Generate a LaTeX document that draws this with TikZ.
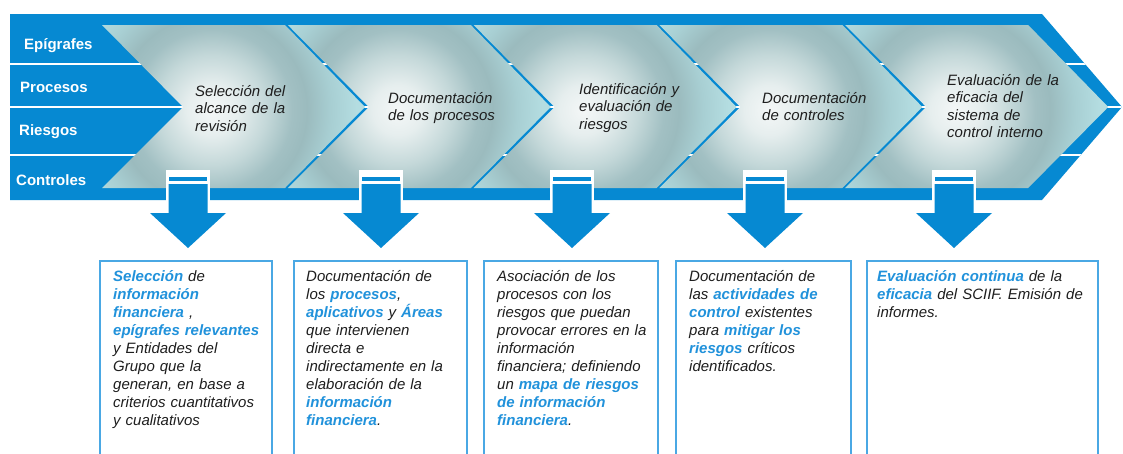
\documentclass[tikz,border=0pt]{standalone}
\usepackage{fontspec}
\setmainfont{Liberation Sans}
\definecolor{bandblue}{HTML}{0689D2}
\definecolor{kwblue}{HTML}{2192DB}
\definecolor{boxblue}{HTML}{4AA8E4}
\definecolor{txt}{HTML}{1E1E1E}
\definecolor{cc0}{HTML}{F4F7F7}
\definecolor{cc1}{HTML}{E6EEEE}
\definecolor{cc2}{HTML}{C4D8D9}
\definecolor{cc3}{HTML}{A2C0C3}
\definecolor{cc4}{HTML}{9BBBBE}
\definecolor{cc5}{HTML}{A8CFD3}
\definecolor{cc6}{HTML}{B4DDE1}
\pgfdeclareradialshading{chevshade}{\pgfpoint{0bp}{0bp}}{color(0bp)=(cc0); color(3.7bp)=(cc1); color(8.1bp)=(cc2); color(11.8bp)=(cc3); color(14bp)=(cc4); color(17.6bp)=(cc5); color(21.3bp)=(cc6); color(50bp)=(cc6)}
\newcommand{\kw}[1]{{\color{kwblue}\bfseries #1}}
\tikzset{
  rowlbl/.style={anchor=base west, font=\fontsize{15}{18}\selectfont\bfseries, text=white, inner sep=0pt},
  chevlbl/.style={anchor=base west, font=\fontsize{15}{17.5}\selectfont\itshape, text=txt, inner sep=0pt, text width=170pt, align=left},
  boxtxt/.style={anchor=base west, font=\fontsize{15}{18}\selectfont\itshape, text=txt, inner sep=0pt, text width=240pt, align=left},
  textbox/.style={draw=boxblue, line width=1.3pt},
}
\begin{document}
\begin{tikzpicture}[x=1pt,y=-1pt]
\useasboundingbox (0,0) rectangle (1123,453);
\fill[white] (0,0) rectangle (1123,453);
% blue band
\fill[bandblue] (10,14) -- (1042,14) -- (1122,107) -- (1042,200) -- (10,200) -- cycle;
\begin{scope}
  \clip (10,14) -- (1042,14) -- (1122,107) -- (1042,200) -- (10,200) -- cycle;
  \foreach \y in {64,107,155} \draw[white, line width=2pt] (10,\y) -- (1123,\y);
\end{scope}
% chevrons
\foreach \L in {102,287.8,473.6,659.4,845.2} {
  \begin{scope}
    \clip (\L,25) -- ++(183,0) -- ++(80,82) -- ++(-80,81) -- ++(-183,0) -- ++(81,-81) -- cycle;
    \shade[shading=chevshade] (\L+110,110) circle (170pt);
  \end{scope}
}
% down arrows
\foreach \c in {188,381,572,765,954} {
  \fill[white] (\c-22,170) rectangle (\c+22,214);
  \fill[bandblue] (\c-19,177) rectangle (\c+19,180.5);
  \fill[bandblue] (\c-19.5,184) -- (\c+19.5,184) -- (\c+19.5,213) -- (\c+38,213) -- (\c,248) -- (\c-38,213) -- (\c-19.5,213) -- cycle;
}
% text boxes
\draw[textbox] (100,455) -- (100,261) -- (272,261) -- (272,455);
\draw[textbox] (294,455) -- (294,261) -- (467,261) -- (467,455);
\draw[textbox] (484,455) -- (484,261) -- (658,261) -- (658,455);
\draw[textbox] (676,455) -- (676,261) -- (851,261) -- (851,455);
\draw[textbox] (867,455) -- (867,261) -- (1098,261) -- (1098,455);
% row labels
\node[rowlbl] (lEpi) at (24,49.5) {Epígrafes};
\node[rowlbl] (lPro) at (20,92.5) {Procesos};
\node[rowlbl] (lRie) at (19,135.5) {Riesgos};
\node[rowlbl] (lCon) at (16,185.5) {Controles};
% chevron labels
\node[chevlbl] (ch1) at (195,96) {Selección del\\alcance de la\\revisión};
\node[chevlbl] (ch2) at (388,103) {Documentación\\de los procesos};
\node[chevlbl] (ch3) at (579,94) {Identificación y\\evaluación de\\riesgos};
\node[chevlbl] (ch4) at (762,103) {Documentación\\de controles};
\node[chevlbl] (ch5) at (947,85) {Evaluación de la\\eficacia del\\sistema de\\control interno};
% box texts
\node[boxtxt] (t1) at (113,281) {\kw{Selección} de\\\kw{información}\\\kw{financiera} ,\\\kw{epígrafes relevantes}\\y Entidades del\\Grupo que la\\generan, en base a\\criterios cuantitativos\\y cualitativos};
\node[boxtxt] (t2) at (306,281) {Documentación de\\los \kw{procesos},\\\kw{aplicativos} y \kw{Áreas}\\que intervienen\\directa e\\indirectamente en la\\elaboración de la\\\kw{información}\\\kw{financiera}.};
\node[boxtxt] (t3) at (497,281) {Asociación de los\\procesos con los\\riesgos que puedan\\provocar errores en la\\información\\financiera; definiendo\\un \kw{mapa de riesgos}\\\kw{de información}\\\kw{financiera}.};
\node[boxtxt] (t4) at (689,281) {Documentación de\\las \kw{actividades de}\\\kw{control} existentes\\para \kw{mitigar los}\\\kw{riesgos} críticos\\identificados.};
\node[boxtxt] (t5) at (877,281) {\kw{Evaluación continua} de la\\\kw{eficacia} del SCIIF. Emisión de\\informes.};
\end{tikzpicture}
\end{document}
